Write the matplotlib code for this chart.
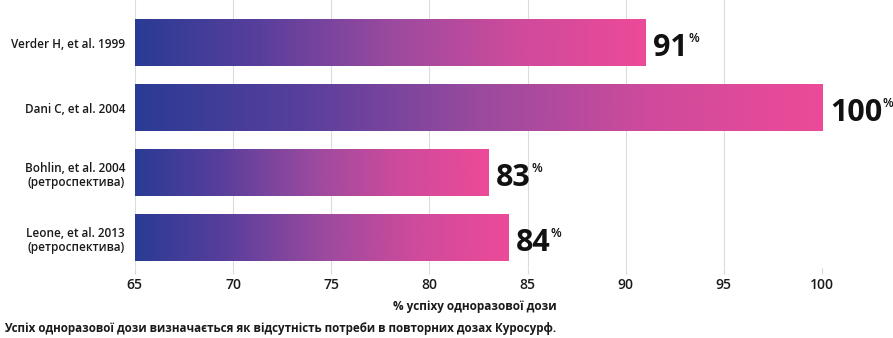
import numpy as np
import matplotlib.pyplot as plt
from matplotlib.colors import LinearSegmentedColormap

plt.rcParams['font.family'] = ['Open Sans', 'DejaVu Sans']

# study labels and single-dose success rates (%)
studies = ['Verder H, et al. 1999', 'Dani C, et al. 2004',
           'Bohlin, et al. 2004\n(ретроспектива)', 'Leone, et al. 2013\n(ретроспектива)']
success = [91, 100, 83, 84]
xticks = [65, 70, 75, 80, 85, 90, 95, 100]

x_min = 65
bar_h = 0.71

grad = LinearSegmentedColormap.from_list(
    'bluepink', ['#2a3b95', '#5a3f9c', '#9a4a9f', '#cf4a9c', '#ec4a98'])

fig = plt.figure(figsize=(8.93, 3.38), dpi=100)
ax = fig.add_axes([0.151, 0.207, 0.7695, 0.793])

ypos = np.arange(len(studies))
ramp = np.linspace(0, 1, 256).reshape(1, -1)
for y, v in zip(ypos, success):
    ax.imshow(ramp, cmap=grad, aspect='auto', zorder=2,
              extent=[x_min, v, y + bar_h / 2, y - bar_h / 2])
    num = ax.text(v + 0.4, y + 0.08, f'{v}', fontsize=22, fontweight='bold',
                  va='center', ha='left', color='#111111', zorder=3)
    # small raised percent sign right after the number
    ax.annotate('%', xy=(1.0, 0.6), xycoords=num, xytext=(0.3, 0),
                textcoords='offset points', fontsize=9, fontweight='semibold',
                color='#111111', ha='left', va='bottom')

ax.set_xlim(65, 100)
ax.set_ylim(3.46, -0.66)

ax.set_xticks(xticks)
ax.set_xticklabels([str(t) for t in xticks], fontsize=10, fontweight='semibold', color='#1a1a1a')
ax.set_yticks(ypos)
ax.set_yticklabels(studies, fontsize=8.5, fontweight='semibold', color='#1a1a1a',
                   linespacing=1.1)
ax.tick_params(axis='x', length=4, color='#d8d8d8', pad=3)
ax.tick_params(axis='y', length=0, pad=7)
ax.grid(axis='x', color='#dcdcdc', linewidth=0.8, zorder=0)
ax.set_axisbelow(True)
for s in ax.spines.values():
    s.set_visible(False)

fig.text(0.532, 0.094, '% успіху одноразової дози', fontsize=8.5, fontweight='bold',
         ha='center', va='center', color='#1a1a1a')
fig.text(0.004, 0.027, 'Успіх одноразової дози визначається як відсутність потреби в повторних дозах Куросурф.',
         fontsize=8.4, fontweight='bold', ha='left', va='center', color='#1a1a1a')

fig.savefig('out.png', dpi=100)
